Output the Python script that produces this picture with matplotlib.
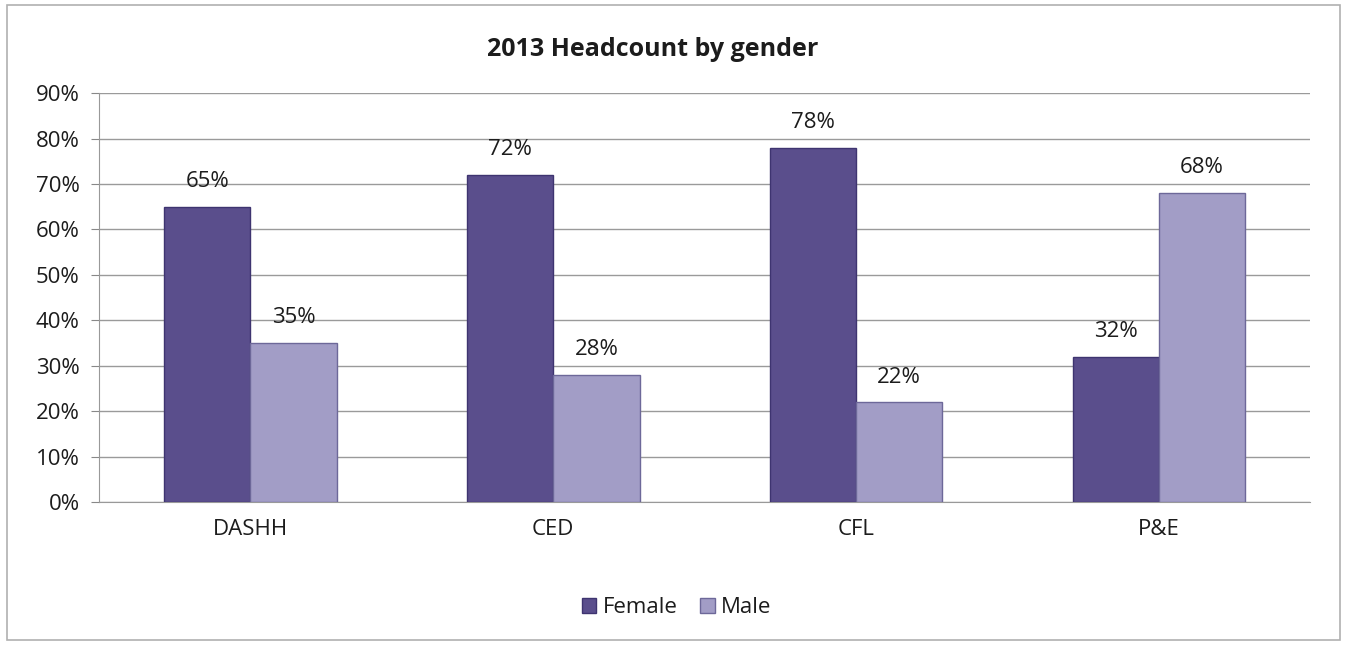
import numpy as np
import matplotlib.pyplot as plt
from matplotlib.patches import Rectangle
from matplotlib.ticker import PercentFormatter

categories = ["DASHH", "CED", "CFL", "P&E"]
female = [65, 72, 78, 32]
male = [35, 28, 22, 68]
y_ticks = [0, 10, 20, 30, 40, 50, 60, 70, 80, 90]

FEMALE_COLOR = "#5a4e8c"
MALE_COLOR = "#a29dc6"
TEXT = "#1c1c1c"

plt.rcParams.update({"font.family": ["Open Sans", "DejaVu Sans"], "font.size": 16})

fig = plt.figure(figsize=(13.47, 6.45), dpi=100)
fig.patches.append(Rectangle((0.005, 0.008), 0.99, 0.985, transform=fig.transFigure,
                             fill=False, edgecolor="#b0b0b0", linewidth=1.2))
ax = fig.add_axes([0.0735, 0.2217, 0.8993, 0.634])

x = np.arange(len(categories))
w = 0.285
b1 = ax.bar(x - w / 2, female, width=w, color=FEMALE_COLOR, edgecolor="#3e3470",
            linewidth=1.0, label="Female", zorder=3)
b2 = ax.bar(x + w / 2, male, width=w, color=MALE_COLOR, edgecolor="#6d6899",
            linewidth=1.0, label="Male", zorder=3)

for bars, vals in ((b1, female), (b2, male)):
    for bar, v in zip(bars, vals):
        ax.text(bar.get_x() + bar.get_width() / 2, v + 3.2, f"{v}%",
                ha="center", va="bottom", fontsize=16, color=TEXT)

ax.set_xlim(-0.5, len(categories) - 0.5)
ax.set_ylim(0, 90)
ax.set_yticks(y_ticks)
ax.yaxis.set_major_formatter(PercentFormatter(decimals=0))
ax.set_xticks(x)
ax.set_xticklabels(categories)
ax.tick_params(axis="x", length=0, pad=12, labelsize=16, labelcolor=TEXT)
ax.tick_params(axis="y", length=6, color="#888888", labelsize=16, pad=8, labelcolor=TEXT)
ax.grid(axis="y", color="#9a9a9a", linewidth=1.0, zorder=0)
for s in ("top", "right"):
    ax.spines[s].set_visible(False)
for s in ("left", "bottom"):
    ax.spines[s].set_color("#999999")

ax.set_title("2013 Headcount by gender", fontsize=18, fontweight="bold", pad=27,
             color=TEXT, x=0.457)

ax.legend(loc="center", bbox_to_anchor=(0.477, -0.259), ncol=2, frameon=False,
          handlelength=0.65, handleheight=0.65, handletextpad=0.3, columnspacing=1.0,
          fontsize=16, labelcolor=TEXT)

fig.savefig("out.png", dpi=100)
